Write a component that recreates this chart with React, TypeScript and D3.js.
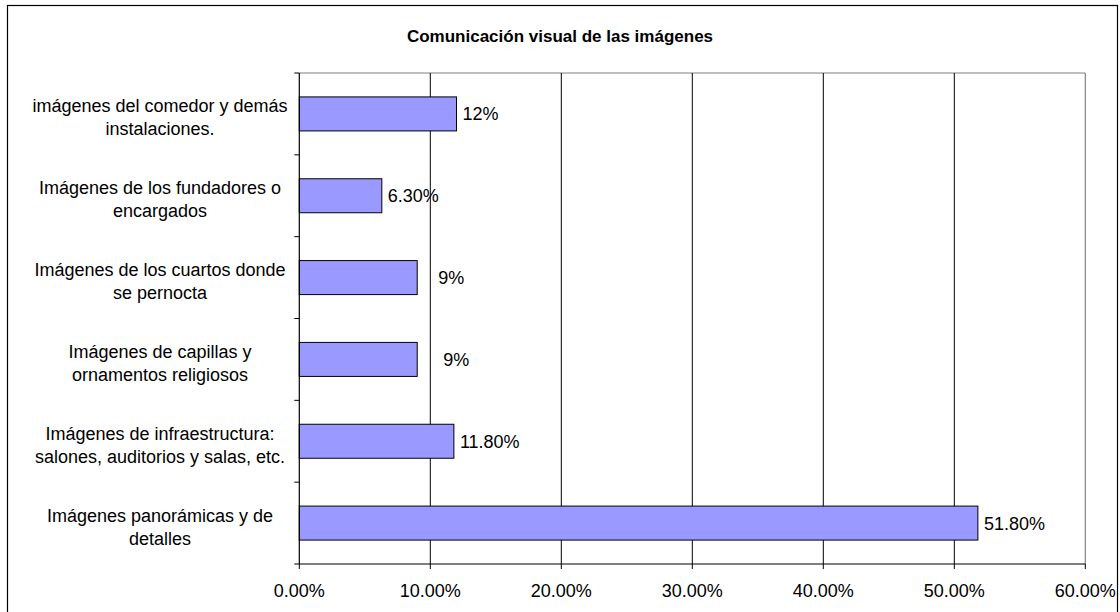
import React from "react";
import * as d3 from "d3";

const title = "Comunicación visual de las imágenes";
const categories: string[][] = [
  ["imágenes del comedor y demás", "instalaciones."],
  ["Imágenes de los fundadores o", "encargados"],
  ["Imágenes de los cuartos donde", "se pernocta"],
  ["Imágenes de capillas y", "ornamentos religiosos"],
  ["Imágenes de infraestructura:", "salones, auditorios y salas, etc."],
  ["Imágenes panorámicas y de", "detalles"],
];
const values = [12, 6.3, 9, 9, 11.8, 51.8];
const valueLabels = ["12%", "6.30%", "   9%", "    9%", "11.80%", "51.80%"];
const xTicks = [0, 10, 20, 30, 40, 50, 60];

const W = 1120;
const H = 612;
const FONT = "Arial, 'Liberation Sans', sans-serif";

export default function App() {
  const left = 299.3;
  const right = 1085.3;
  const top = 73;
  const bottom = 564;
  const x = d3.scaleLinear().domain([0, 60]).range([left, right]);
  const y = d3
    .scaleBand<number>()
    .domain(categories.map((_, i) => i))
    .range([top, bottom]);
  const barH = 34;
  const bw = y.bandwidth();

  return (
    <svg
      width={W}
      height={H}
      style={{ position: "absolute", left: 0, top: 0, background: "#fff" }}
      fontFamily={FONT}
    >
      <rect x={0} y={0} width={W} height={H} fill="#fff" />
      <rect x={7.5} y={5.5} width={1110} height={620} fill="none" stroke="#000" strokeWidth={1.2} />
      <text x={560} y={42} textAnchor="middle" fontSize={17} fontWeight="bold" fill="#000">
        {title}
      </text>
      {/* plot border top/right */}
      <line x1={left} x2={right} y1={top} y2={top} stroke="#808080" strokeWidth={1.2} />
      <line x1={right} x2={right} y1={top} y2={bottom} stroke="#808080" strokeWidth={1.2} />
      {/* gridlines */}
      {xTicks.slice(1, -1).map((t) => (
        <line key={t} x1={x(t)} x2={x(t)} y1={top} y2={bottom} stroke="#000" strokeWidth={1} />
      ))}
      {/* bars */}
      {values.map((v, i) => (
        <rect
          key={i}
          x={x(0)}
          y={(y(i) as number) + bw / 2 - barH / 2}
          width={x(v) - x(0)}
          height={barH}
          fill="#9999FF"
          stroke="#000"
          strokeWidth={1}
        />
      ))}
      {/* value labels */}
      {values.map((v, i) => (
        <text
          key={i}
          x={x(v) + 6}
          y={(y(i) as number) + bw / 2 + 6.5}
          fontSize={18}
          fill="#000"
          style={{ whiteSpace: "pre" }}
        >
          {valueLabels[i]}
        </text>
      ))}
      {/* axes */}
      <line x1={left} x2={left} y1={top} y2={bottom} stroke="#000" strokeWidth={1.2} />
      <line x1={left - 5} x2={right} y1={bottom} y2={bottom} stroke="#000" strokeWidth={1.2} />
      {categories.map((_, i) => (
        <line key={i} x1={left - 5} x2={left} y1={y(i) as number} y2={y(i) as number} stroke="#000" strokeWidth={1} />
      ))}
      {xTicks.map((t) => (
        <g key={t}>
          <line x1={x(t)} x2={x(t)} y1={bottom} y2={bottom + 5} stroke="#000" strokeWidth={1} />
          <text x={x(t)} y={bottom + 33} textAnchor="middle" fontSize={18} fill="#000">
            {t.toFixed(2) + "%"}
          </text>
        </g>
      ))}
      {/* category labels */}
      {categories.map((lines, i) => (
        <text key={i} x={160} textAnchor="middle" fontSize={18} fill="#000">
          {lines.map((l, j) => (
            <tspan key={j} x={160} y={(y(i) as number) + bw / 2 - 1.5 + j * 23}>
              {l}
            </tspan>
          ))}
        </text>
      ))}
    </svg>
  );
}
